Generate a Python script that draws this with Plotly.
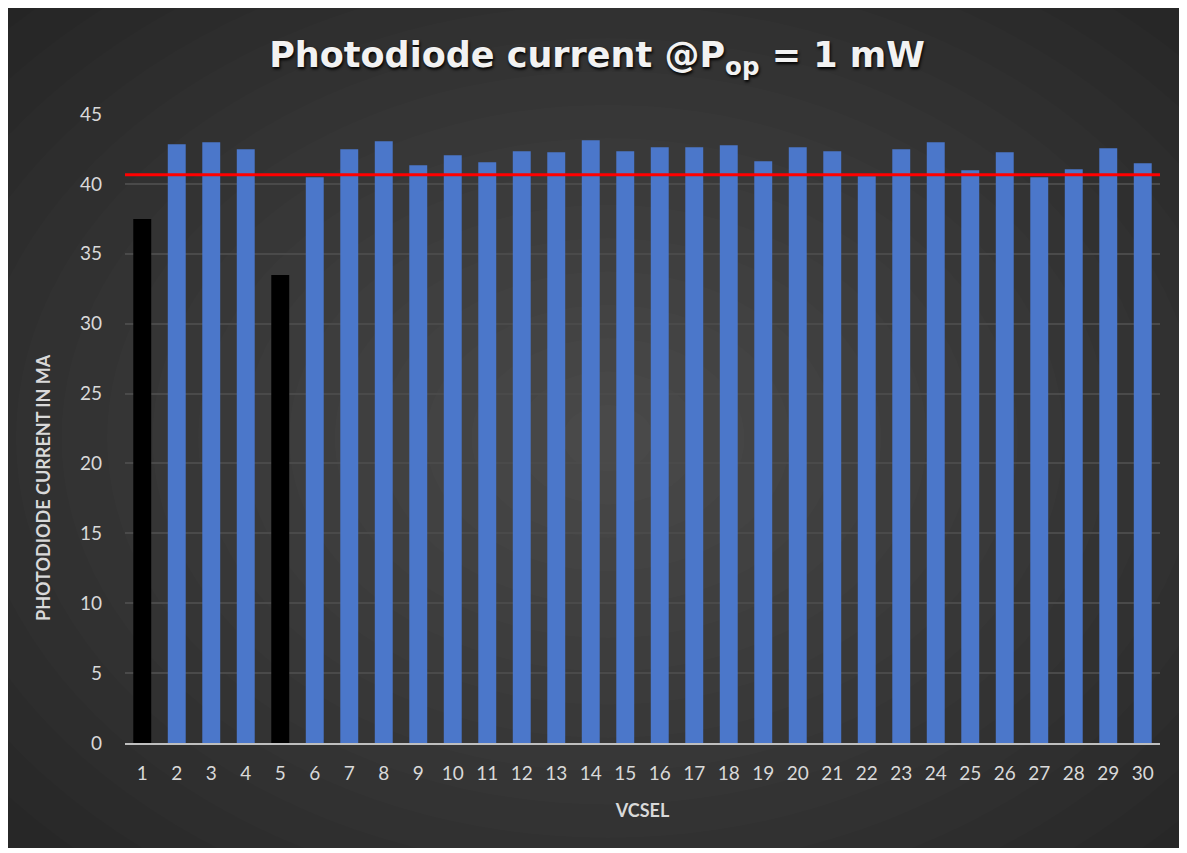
import plotly.graph_objects as go

vcsel = [str(i) for i in range(1, 31)]
current_ma = [37.48, 42.84, 42.98, 42.48, 33.48, 40.48, 42.48, 43.05, 41.34, 42.05,
              41.55, 42.34, 42.27, 43.12, 42.34, 42.62, 42.62, 42.76, 41.62, 42.62,
              42.34, 40.55, 42.48, 42.98, 40.98, 42.27, 40.48, 41.05, 42.55, 41.48]
failed = ["1", "5"]
threshold_ma = 40.65

# page body adds an 8px offset; figure sized to end where the reference chart ends
W, H = 1173, 840
L, R, T, B = 117, 21, 106, 105
PW, PH = W - L - R, H - T - B

colors = ["#000000" if v in failed else "#4B77CA" for v in vcsel]

fig = go.Figure()
fig.add_trace(go.Bar(x=vcsel, y=current_ma, marker=dict(color=colors, line=dict(width=0)),
                     width=0.52, hoverinfo="x+y"))

shapes = []
n = 18
cx, cy = 600, 430  # glow centre in figure px
for i in range(n):
    f = 1 - i / n
    rx, ry = 820 * f, 600 * f
    x0, x1 = cx - rx, cx + rx
    y0, y1 = cy - ry, cy + ry
    shapes.append(dict(type="circle", xref="paper", yref="paper", layer="below",
                       x0=(x0 - L) / PW, x1=(x1 - L) / PW,
                       y0=(H - B - y1) / PH, y1=(H - B - y0) / PH,
                       fillcolor="rgba(255,255,255,0.0105)", line=dict(width=0)))
shapes.append(dict(type="line", xref="paper", yref="y", x0=0, x1=1,
                   y0=threshold_ma, y1=threshold_ma, line=dict(color="#FF0000", width=3)))

fig.update_layout(
    width=W, height=H,
    paper_bgcolor="#252525", plot_bgcolor="rgba(0,0,0,0)",
    margin=dict(l=L, r=R, t=T, b=B),
    shapes=shapes,
    showlegend=False,
    bargap=0.48,
    font=dict(family="Lato", color="#D9D9D9"),
    title=dict(text="Photodiode current @P<sub>op</sub> = 1 mW", x=589 / W, xanchor="center",
               y=1 - 47 / H, yanchor="middle", yref="container",
               font=dict(family="DejaVu Sans", size=35, color="#F2F2F2", weight="bold",
                         shadow="1px 2px 3px #000000")),
    xaxis=dict(title=dict(text="<b>VCSEL</b>", font=dict(size=18, color="#D9D9D9"), standoff=22),
               tickfont=dict(size=19, color="#D9D9D9"), showgrid=False,
               showline=True, linecolor="#BFBFBF", linewidth=2, ticks="", ticklabelstandoff=12),
    yaxis=dict(range=[0, 45], dtick=5, tickfont=dict(size=19, color="#D9D9D9"),
               gridcolor="#4A4A4A", gridwidth=2, zeroline=False, ticks="", ticklabelstandoff=22),
    annotations=[dict(text="<b>PHOTODIODE CURRENT IN MA</b>", textangle=-90,
                      xref="paper", yref="paper", x=(35 - L) / PW, y=(H - B - 480) / PH,
                      xanchor="center", yanchor="middle", showarrow=False,
                      font=dict(family="Lato", size=18, color="#D9D9D9"))],
)
fig.write_html("out.html")
